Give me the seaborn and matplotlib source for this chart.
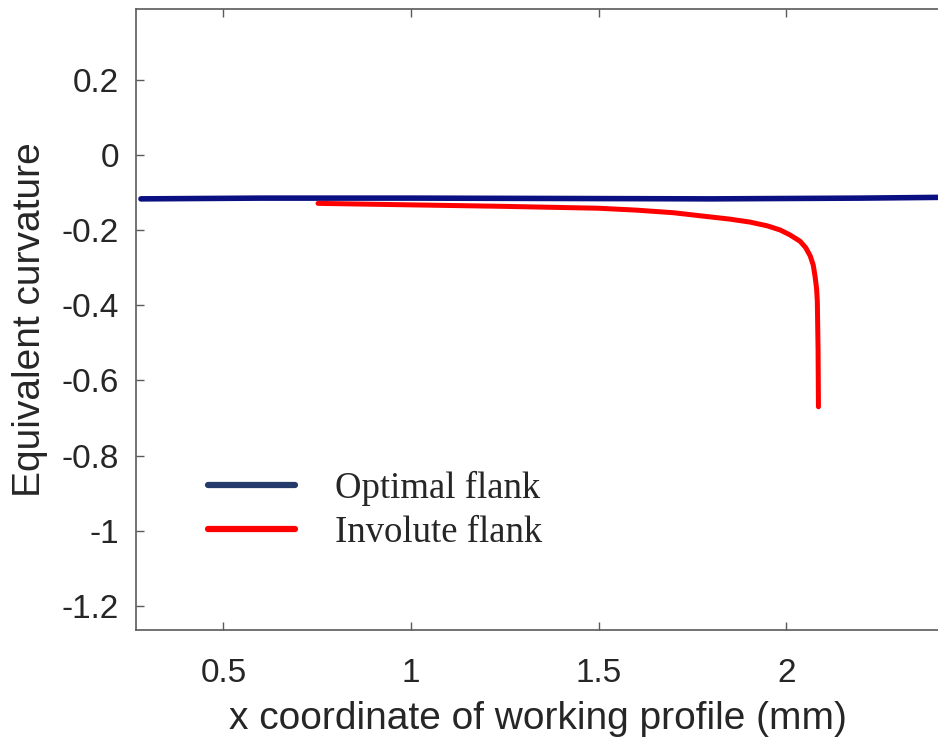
import matplotlib
matplotlib.use("Agg")
import matplotlib.pyplot as plt
import seaborn as sns
import pandas as pd

# Data
optimal_x = [0.28, 0.6, 1.0, 1.4, 1.8, 2.2, 2.41]
optimal_y = [-0.116, -0.114, -0.114, -0.115, -0.116, -0.114, -0.112]

involute_x = [0.752, 1.0, 1.25, 1.5, 1.6, 1.7, 1.77, 1.85, 1.904, 1.95, 1.984,
              2.01, 2.037, 2.052, 2.064, 2.072, 2.077, 2.081, 2.083, 2.085, 2.086]
involute_y = [-0.128, -0.132, -0.136, -0.141, -0.146, -0.153, -0.161, -0.170,
              -0.178, -0.188, -0.199, -0.212, -0.229, -0.246, -0.268, -0.292,
              -0.323, -0.355, -0.39, -0.52, -0.67]

series_names = ["Optimal flank", "Involute flank"]
series_colors = ["#0a0f82", "#ff0000"]
legend_colors = ["#243a6a", "#ff0000"]

sns.set_theme(style="white")
plt.rcParams["font.family"] = ["Liberation Sans", "DejaVu Sans"]

W, H = 938, 744
fig = plt.figure(figsize=(W / 100, H / 100), dpi=100)
left, right, top, bottom = 135.7, 940, 9, 630
ax = fig.add_axes([left / W, 1 - bottom / H, (right - left) / W, (bottom - top) / H])

df_opt = pd.DataFrame({"x": optimal_x, "y": optimal_y})
df_inv = pd.DataFrame({"x": involute_x, "y": involute_y})

sns.lineplot(data=df_opt, x="x", y="y", ax=ax, color=series_colors[0],
             linewidth=4.0, estimator=None, sort=False, label=series_names[0])
sns.lineplot(data=df_inv, x="x", y="y", ax=ax, color=series_colors[1],
             linewidth=3.6, estimator=None, sort=False, label=series_names[1])

ax.set_xlim(0.266, 2.41)
ax.set_ylim(-1.265, 0.39)
ax.set_xticks([0.5, 1, 1.5, 2])
ax.set_xticklabels(["0.5", "1", "1.5", "2"])
ax.set_yticks([0.2, 0, -0.2, -0.4, -0.6, -0.8, -1, -1.2])
ax.set_yticklabels(["0.2", "0", "-0.2", "-0.4", "-0.6", "-0.8", "-1", "-1.2"])

spine_color = "#5a5a5a"
for s in ["left", "bottom", "top"]:
    ax.spines[s].set_visible(True)
    ax.spines[s].set_color(spine_color)
    ax.spines[s].set_linewidth(1.2)
ax.spines["right"].set_visible(False)

ax.tick_params(axis="both", which="major", direction="in", length=6, width=1.0,
               color=spine_color, labelsize=24, labelcolor="#262626",
               top=True, bottom=True, left=True, right=False)
ax.tick_params(axis="x", pad=20)
ax.tick_params(axis="y", pad=12)

ax.set_xlabel("x coordinate of working profile (mm)", fontsize=28, color="#262626", labelpad=9)
ax.set_ylabel("Equivalent curvature", fontsize=28, color="#262626", labelpad=10)

leg = ax.legend(loc="upper left", bbox_to_anchor=(0.09, 0.257), frameon=False,
                borderpad=0, borderaxespad=0,
                prop={"family": "Liberation Serif", "size": 26.5},
                handlelength=2.36, handletextpad=1.1, labelspacing=0.28)
for line, c in zip(leg.get_lines(), legend_colors):
    line.set_linewidth(4.5)
    line.set_color(c)

fig.savefig("out.png", dpi=100)
